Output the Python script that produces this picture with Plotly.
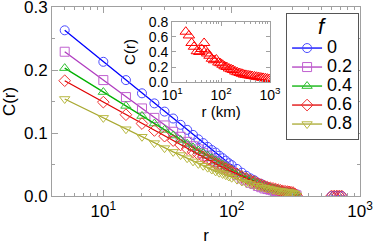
import plotly.graph_objects as go

# ---------------- data ----------------
r_main = [5, 10, 15, 20, 25, 30, 35, 40, 45, 50, 55, 60, 65, 70, 75, 80, 85, 90, 95, 100,
          110, 120, 130, 140, 150, 160, 170, 180, 190, 200, 210, 220, 230, 240, 250, 260,
          270, 280, 290, 300, 310, 320]

c_f0 = [0.263, 0.213, 0.184, 0.163, 0.147, 0.134, 0.123, 0.113, 0.105, 0.097, 0.090, 0.084,
        0.078, 0.073, 0.069, 0.064, 0.060, 0.056, 0.052, 0.049,
        0.043, 0.037, 0.032, 0.028, 0.025, 0.021, 0.019, 0.016, 0.014, 0.012, 0.011, 0.010,
        0.008, 0.007, 0.006, 0.0057, 0.0051, 0.0045, 0.0041, 0.0036, 0.0025, 0.001]
c_f02 = [0.229, 0.184, 0.157, 0.139, 0.124, 0.112, 0.102, 0.094, 0.086, 0.079, 0.074, 0.068,
         0.063, 0.058, 0.054, 0.050, 0.047, 0.044, 0.040, 0.038,
         0.033, 0.028, 0.025, 0.021, 0.019, 0.016, 0.014, 0.012, 0.011, 0.010, 0.009, 0.008,
         0.007, 0.006, 0.005, 0.0048, 0.0044, 0.0039, 0.0036, 0.0032, 0.0022, 0.001]
c_f04 = [0.203, 0.165, 0.143, 0.127, 0.115, 0.105, 0.096, 0.089, 0.083, 0.077, 0.072, 0.068,
         0.064, 0.060, 0.056, 0.053, 0.050, 0.047, 0.044, 0.042,
         0.037, 0.033, 0.030, 0.027, 0.024, 0.020, 0.018, 0.016, 0.014, 0.013, 0.012, 0.011,
         0.010, 0.009, 0.008, 0.007, 0.0066, 0.006, 0.0055, 0.005, 0.0035, 0.001]
c_f06 = [0.183, 0.149, 0.129, 0.115, 0.104, 0.095, 0.088, 0.081, 0.075, 0.070, 0.066, 0.062,
         0.058, 0.055, 0.051, 0.048, 0.046, 0.043, 0.041, 0.039,
         0.035, 0.031, 0.028, 0.025, 0.023, 0.020, 0.018, 0.016, 0.014, 0.013, 0.012, 0.011,
         0.010, 0.009, 0.008, 0.0075, 0.007, 0.0065, 0.006, 0.0055, 0.0035, 0.001]
c_f08 = [0.154, 0.124, 0.106, 0.094, 0.084, 0.076, 0.070, 0.065, 0.060, 0.055, 0.051, 0.048,
         0.045, 0.042, 0.039, 0.037, 0.035, 0.033, 0.031, 0.029,
         0.026, 0.023, 0.021, 0.019, 0.017, 0.016, 0.014, 0.013, 0.012, 0.011, 0.010, 0.009,
         0.0086, 0.008, 0.0075, 0.0069, 0.0065, 0.0061, 0.0057, 0.0053, 0.0035, 0.001]

f_labels = ["0", "0.2", "0.4", "0.6", "0.8"]

r_far = [600, 630, 660, 690, 720]
c_far = [0, 0, 0, 0, 0]

r_inset = [19, 22, 25, 28, 32, 36, 40, 45, 48, 52, 58, 65, 72, 80, 88, 97, 107, 118, 130,
           145, 160, 175, 195, 215, 240, 265, 290, 320, 355, 390, 430, 480, 530, 590, 650,
           720, 800, 880, 970]
c_inset = [0.67, 0.62, 0.52, 0.47, 0.41, 0.40, 0.44, 0.52, 0.42, 0.38, 0.35, 0.31, 0.29,
           0.30, 0.26, 0.25, 0.23, 0.21, 0.20, 0.18, 0.17, 0.16, 0.14, 0.13, 0.12, 0.11,
           0.10, 0.095, 0.09, 0.085, 0.08, 0.075, 0.07, 0.065, 0.06, 0.055, 0.05, 0.045, 0.04]

x_ticks = [10, 100, 1000]
x_ticktext = ["10<sup>1</sup>", "10<sup>2</sup>", "10<sup>3</sup>"]
y_ticks = [0.0, 0.1, 0.2, 0.3]
y_ticktext = ["0.0", "0.1", "0.2", "0.3"]
yi_ticks = [0.0, 0.2, 0.4, 0.6, 0.8]
yi_ticktext = ["0.0", "0.2", "0.4", "0.6", "0.8"]
minor_log = [5, 6, 7, 8, 9, 20, 30, 40, 50, 60, 70, 80, 90,
             200, 300, 400, 500, 600, 700, 800, 900]

# ---------------- styles ----------------
FONT = "Liberation Sans, Arial, sans-serif"
GREY = "#a0a0a0"
styles = [
    ("#0000ff", "#4a4aff", "circle-open"),
    ("#b03cc0", "#c060d0", "square-open"),
    ("#00b000", "#30c030", "triangle-up-open"),
    ("#e00000", "#f03030", "diamond-open"),
    ("#a8a830", "#b8b840", "triangle-down-open"),
]
series = [c_f0, c_f02, c_f04, c_f06, c_f08]

fig = go.Figure()
for lab, vals, (lc, mc, sym) in zip(f_labels, series, styles):
    fig.add_trace(go.Scatter(
        x=r_main, y=vals, mode="lines+markers",
        name='<span style="font-size:18px">' + lab + '</span>',
        line=dict(color=lc, width=1.3),
        marker=dict(symbol=sym, size=9, color=mc, line=dict(width=1, color=mc)),
        xaxis="x", yaxis="y"))

for idx in (0, 3):
    lc, mc, sym = styles[idx]
    fig.add_trace(go.Scatter(
        x=r_far, y=c_far, mode="markers", showlegend=False,
        marker=dict(symbol=sym, size=9, color=mc, line=dict(width=1, color=mc)),
        xaxis="x", yaxis="y"))

fig.add_trace(go.Scatter(
    x=r_inset, y=c_inset, mode="markers", showlegend=False,
    marker=dict(symbol="triangle-up-open", size=10, color="#ff0000",
                line=dict(width=1, color="#ff0000")),
    xaxis="x2", yaxis="y2"))

axis_common = dict(showgrid=False, zeroline=False, ticks="inside", tickcolor=GREY,
                   linecolor=GREY, linewidth=1, mirror="ticks", showline=True,
                   automargin=False, ticklabeloverflow="allow")

fig.update_layout(
    width=374, height=247,
    margin=dict(l=52, r=14, t=7, b=51, autoexpand=False),
    paper_bgcolor="white", plot_bgcolor="white",
    font=dict(family=FONT, color="black"),
    xaxis=dict(type="log", range=[0.6, 3.0], domain=[0, 1], anchor="y",
               tickvals=x_ticks, ticktext=x_ticktext, ticklen=6,
               tickfont=dict(size=17),
               minor=dict(tickvals=minor_log, ticks="inside", ticklen=3, tickcolor=GREY),
               title=dict(text="r", font=dict(size=17), standoff=8),
               **axis_common),
    yaxis=dict(range=[0, 0.3], domain=[0, 1], anchor="x",
               tickvals=y_ticks, ticktext=y_ticktext, ticklen=6,
               tickfont=dict(size=17),
               minor=dict(dtick=0.05, ticks="inside", ticklen=3, tickcolor=GREY),
               title=dict(text="C(r)", font=dict(size=17), standoff=4),
               **axis_common),
    xaxis2=dict(type="log", range=[1, 3], domain=[0.39, 0.708], anchor="y2",
                tickvals=x_ticks, ticktext=x_ticktext, ticklen=4,
                tickfont=dict(size=14),
                minor=dict(tickvals=minor_log, ticks="inside", ticklen=2, tickcolor=GREY),
                title=dict(text="r (km)", font=dict(size=15), standoff=2),
                **axis_common),
    yaxis2=dict(range=[0, 0.8], domain=[0.603, 0.921], anchor="x2",
                tickvals=yi_ticks, ticktext=yi_ticktext, ticklen=4,
                tickfont=dict(size=14),
                title=dict(text="C(r)", font=dict(size=15), standoff=9),
                **axis_common),
    legend=dict(x=0.76, y=0.968, xanchor="left", yanchor="top",
                bordercolor="#555555", borderwidth=1, bgcolor="white",
                font=dict(size=12), tracegroupgap=0,
                title=dict(text='<i><span style="font-size:22px">f</span></i>',
                           font=dict(size=15), side="top center")),
    showlegend=True,
)

fig.write_html("out.html", config={"displayModeBar": False},
               post_script="document.body.style.margin='0px';")
